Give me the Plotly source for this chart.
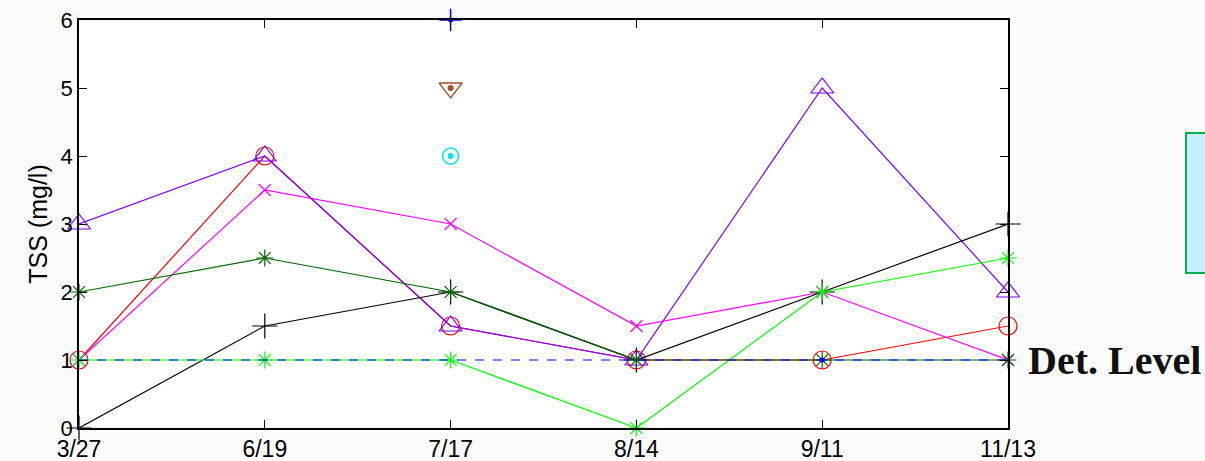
import plotly.graph_objects as go

dates = ["3/27", "6/19", "7/17", "8/14", "9/11", "11/13"]
pos = [0, 1, 2, 3, 4, 5]

red_vals = [1, 4, 1.5, 1, 1, 1.5]
violet_vals = [3, 4, 1.5, 1, 5, 2]
magenta_vals = [1, 3.5, 3, 1.5, 2, 1]
dkgreen_vals = [2, 2.5, 2, 1, 1, 1]
black_vals = [0, 1.5, 2, 1, 2, 3]
green_vals = [1, 1, 1, 0, 2, 2.5]
det_level = [1, 1, 1, 1, 1, 1]

single_x = [2]
blue_single = [6]
brown_single = [5]
cyan_single = [4]

y_ticks = [0, 1, 2, 3, 4, 5, 6]

fig = go.Figure()

def add_line(vals, color, symbol, size, dash="solid"):
    fig.add_trace(go.Scatter(
        x=pos, y=vals, mode="lines+markers",
        line=dict(color=color, width=1.2, dash=dash),
        marker=dict(symbol=symbol, size=size, color=color,
                    line=dict(color=color, width=1.2)),
        cliponaxis=False, showlegend=False))

add_line(red_vals, "#ff0000", "circle-open", 18)
add_line(magenta_vals, "#ff00ff", "x-thin-open", 12)
add_line(violet_vals, "#7f00ff", "triangle-up-open", 20)
add_line(black_vals, "#000000", "cross-thin-open", 18)
add_line(green_vals, "#00ff00", "asterisk-open", 14)
add_line(dkgreen_vals, "#006400", "asterisk-open", 14)

fig.add_trace(go.Scatter(
    x=pos, y=det_level, mode="lines",
    line=dict(color="#0000ff", width=1.2, dash="dash"),
    cliponaxis=False, showlegend=False))
fig.add_trace(go.Scatter(
    x=[4], y=[1], mode="markers",
    marker=dict(symbol="circle", size=5, color="#0000ff"),
    cliponaxis=False, showlegend=False))

fig.add_trace(go.Scatter(
    x=single_x, y=blue_single, mode="markers",
    marker=dict(symbol="cross-thin-open", size=16, color="#0000ff",
                line=dict(color="#0000ff", width=1.5)),
    cliponaxis=False, showlegend=False))
fig.add_trace(go.Scatter(
    x=single_x, y=blue_single, mode="markers",
    marker=dict(symbol="circle", size=5, color="#0000ff"),
    cliponaxis=False, showlegend=False))
fig.add_trace(go.Scatter(
    x=single_x, y=brown_single, mode="markers",
    marker=dict(symbol="triangle-down-open", size=20, color="#a0522d",
                line=dict(color="#a0522d", width=1.3)),
    cliponaxis=False, showlegend=False))
fig.add_trace(go.Scatter(
    x=single_x, y=brown_single, mode="markers",
    marker=dict(symbol="circle", size=6, color="#a0522d"),
    cliponaxis=False, showlegend=False))
fig.add_trace(go.Scatter(
    x=single_x, y=cyan_single, mode="markers",
    marker=dict(symbol="circle-open", size=16, color="#00e5ee",
                line=dict(color="#00e5ee", width=1.5)),
    cliponaxis=False, showlegend=False))
fig.add_trace(go.Scatter(
    x=single_x, y=cyan_single, mode="markers",
    marker=dict(symbol="circle", size=6, color="#00e5ee"),
    cliponaxis=False, showlegend=False))

fig.update_layout(
    width=1205, height=461,
    margin=dict(l=79, r=197, t=20, b=33),
    paper_bgcolor="#fbfbfb",
    plot_bgcolor="#ffffff",
    font=dict(family="Liberation Sans, Arial", size=23, color="#000000"),
    xaxis=dict(range=[0, 5], tickvals=pos, ticktext=dates,
               ticks="inside", ticklen=8, tickcolor="#000000",
               showline=True, linecolor="#000000", linewidth=1.5,
               mirror="allticks", showgrid=False, zeroline=False,
               automargin=False, ticklabeloverflow="allow",
               tickfont=dict(size=23)),
    yaxis=dict(range=[0, 6], tickvals=y_ticks,
               ticks="inside", ticklen=8, tickcolor="#000000",
               showline=True, linecolor="#000000", linewidth=1.5,
               mirror="allticks", showgrid=False, zeroline=False,
               automargin=False, ticklabeloverflow="allow",
               title=dict(text="TSS (mg/l)", font=dict(size=25), standoff=6),
               tickfont=dict(size=22)),
)

fig.add_shape(type="rect", xref="paper", yref="paper",
              x0=(1186 - 79) / 929, x1=(1215 - 79) / 929,
              y0=(428 - 273) / 408, y1=(428 - 133) / 408,
              fillcolor="#c6effb", line=dict(color="#00b050", width=2),
              layer="above")

fig.add_annotation(text="<b>Det. Level</b>", xref="paper", yref="y",
                   x=(1026 - 79) / 929, y=1, xanchor="left", yanchor="middle",
                   showarrow=False,
                   font=dict(family="Liberation Serif, DejaVu Serif", size=40,
                             color="#111111"))

fig.write_html("out.html", config={"displayModeBar": False},
               post_script="document.body.style.margin='0';document.body.style.overflow='hidden';")
